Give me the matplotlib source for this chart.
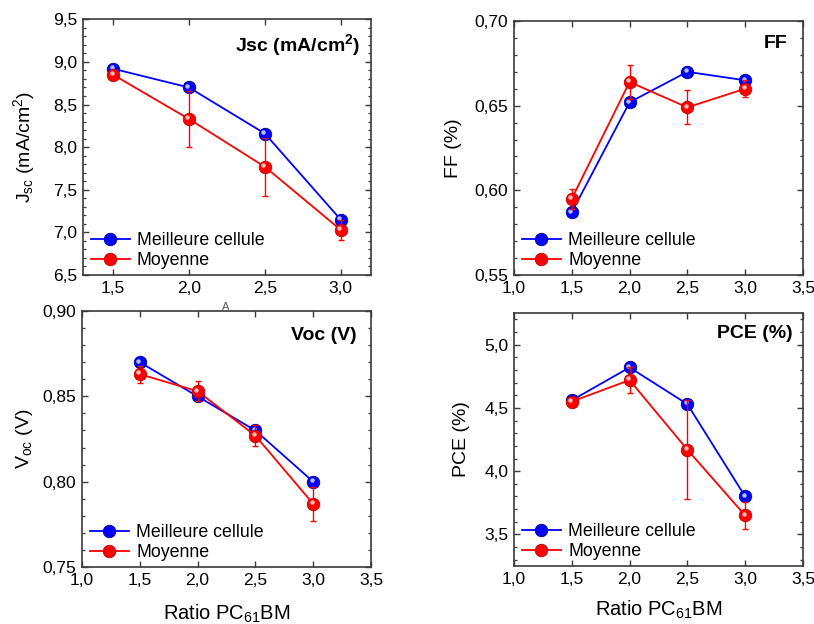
import matplotlib
matplotlib.use("Agg")
import matplotlib.pyplot as plt
from matplotlib.transforms import offset_copy
from matplotlib.ticker import MultipleLocator, FuncFormatter

plt.rcParams['font.family'] = ['Liberation Sans', 'DejaVu Sans']
plt.rcParams['mathtext.fontset'] = 'custom'
plt.rcParams['mathtext.rm'] = 'Liberation Sans'
plt.rcParams['mathtext.it'] = 'Liberation Sans:italic'
plt.rcParams['mathtext.bf'] = 'Liberation Sans:bold'

# PC61BM ratio
ratio = [1.5, 2.0, 2.5, 3.0]

# Jsc (mA/cm2)
jsc_best = [8.92, 8.70, 8.16, 7.15]
jsc_mean = [8.85, 8.33, 7.77, 7.03]
jsc_err = [0.03, 0.33, 0.34, 0.12]

# FF
ff_best = [0.587, 0.652, 0.670, 0.665]
ff_mean = [0.595, 0.664, 0.649, 0.660]
ff_err = [0.006, 0.010, 0.010, 0.005]

# Voc (V)
voc_best = [0.870, 0.850, 0.830, 0.800]
voc_mean = [0.863, 0.853, 0.827, 0.787]
voc_err = [0.005, 0.006, 0.006, 0.010]

# PCE (%)
pce_best = [4.56, 4.82, 4.53, 3.80]
pce_mean = [4.55, 4.72, 4.17, 3.65]
pce_err = [0.02, 0.105, 0.39, 0.11]

labels = ["Meilleure cellule", "Moyenne"]

BLUE, BLUE_EDGE = "#0000ff", "#00009a"
RED, RED_EDGE = "#ff0000", "#c00000"
SPINE = "#3a3a3a"

fig = plt.figure(figsize=(8.14, 6.24), dpi=100)

panels = [
    dict(rect=[0.1016, 0.5593, 0.3542, 0.4098], best=jsc_best, mean=jsc_mean, err=jsc_err,
         ylim=(6.5, 9.5), ymaj=0.5, ymin=0.1, xlim=(1.3, 3.2), xticks=[1.5, 2.0, 2.5, 3.0],
         ylabel=r"J$_{\rm sc}$ (mA/cm$^{2}$)", title=r"Jsc (mA/cm$^{\bf 2}$)",
         tpos=(0.962, 0.90), ylx=-0.158, yfmt="{:.1f}", xlabel=None),
    dict(rect=[0.6314, 0.5593, 0.3550, 0.4070], best=ff_best, mean=ff_mean, err=ff_err,
         ylim=(0.55, 0.70), ymaj=0.05, ymin=0.01, xlim=(1.0, 3.5),
         xticks=[1.0, 1.5, 2.0, 2.5, 3.0, 3.5],
         ylabel="FF (%)", title="FF", tpos=(0.945, 0.913), ylx=-0.18, yfmt="{:.2f}", xlabel=None),
    dict(rect=[0.1007, 0.0913, 0.3550, 0.4103], best=voc_best, mean=voc_mean, err=voc_err,
         ylim=(0.75, 0.90), ymaj=0.05, ymin=0.01, xlim=(1.0, 3.5),
         xticks=[1.0, 1.5, 2.0, 2.5, 3.0, 3.5],
         ylabel=r"V$_{\rm oc}$ (V)", title="Voc (V)", tpos=(0.951, 0.906), ylx=-0.163,
         yfmt="{:.2f}", xlabel=-0.138),
    dict(rect=[0.6314, 0.0929, 0.3550, 0.4054], best=pce_best, mean=pce_mean, err=pce_err,
         ylim=(3.25, 5.25), ymaj=0.5, ymin=0.1, xlim=(1.0, 3.5),
         xticks=[1.0, 1.5, 2.0, 2.5, 3.0, 3.5],
         ylabel="PCE (%)", title="PCE (%)", tpos=(0.965, 0.921), ylx=-0.152, yfmt="{:.1f}",
         xlabel=-0.130),
]


def comma(fmt):
    return FuncFormatter(lambda v, p: fmt.format(v).replace(".", ","))


def sphere_series(ax, x, y, color, edge, z, label):
    line, = ax.plot(x, y, "-o", color=color, lw=1.3, ms=9, mfc=color, mec=edge,
                    mew=0.6, zorder=z, label=label)
    hl = offset_copy(ax.transData, fig=fig, x=-1.5, y=1.7, units="dots")
    ax.plot(x, y, "o", ls="none", ms=3.2, mfc="white", mec="none", alpha=0.75,
            transform=hl, zorder=z + 0.1)
    return line


for p in panels:
    ax = fig.add_axes(p["rect"])
    hb = sphere_series(ax, ratio, p["best"], BLUE, BLUE_EDGE, 3, labels[0])
    ax.errorbar(ratio, p["mean"], yerr=p["err"], fmt="none", ecolor=RED, elinewidth=1.0,
                capsize=2.5, capthick=1.0, zorder=3.5)
    hm = sphere_series(ax, ratio, p["mean"], RED, RED_EDGE, 4, labels[1])

    ax.set_xlim(*p["xlim"])
    ax.set_ylim(*p["ylim"])
    ax.set_xticks(p["xticks"])
    ax.xaxis.set_major_formatter(comma("{:.1f}"))
    ax.yaxis.set_major_locator(MultipleLocator(p["ymaj"]))
    ax.yaxis.set_minor_locator(MultipleLocator(p["ymin"]))
    ax.yaxis.set_major_formatter(comma(p["yfmt"]))

    ax.tick_params(axis="both", which="major", direction="in", length=4.5, width=1.0,
                   color=SPINE, labelsize=12.5, pad=4, top=True, right=True)
    ax.tick_params(axis="y", which="minor", direction="in", length=2.2, width=0.9,
                   color=SPINE, right=True)
    for s in ax.spines.values():
        s.set_color(SPINE)
        s.set_linewidth(1.2)

    ax.set_ylabel(p["ylabel"], fontsize=14)
    ax.yaxis.set_label_coords(p["ylx"], 0.5)
    if p["xlabel"] is not None:
        ax.set_xlabel(r"Ratio PC$_{\rm 61}$BM", fontsize=14.5)
        ax.xaxis.set_label_coords(0.5, p["xlabel"])

    ax.text(p["tpos"][0], p["tpos"][1], p["title"], transform=ax.transAxes,
            ha="right", va="center", fontsize=14, fontweight="bold")

    ax.legend(handles=[hb, hm], loc="lower left", bbox_to_anchor=(0.015, 0.008),
              frameon=False, fontsize=12.8, handlelength=2.2, handletextpad=0.4,
              labelspacing=0.2, borderpad=0.2, borderaxespad=0)

fig.text(226 / 814, 1 - 307 / 624, "A", color="#555555", fontsize=8,
         ha="center", va="center")

fig.savefig("out.png", dpi=100)
